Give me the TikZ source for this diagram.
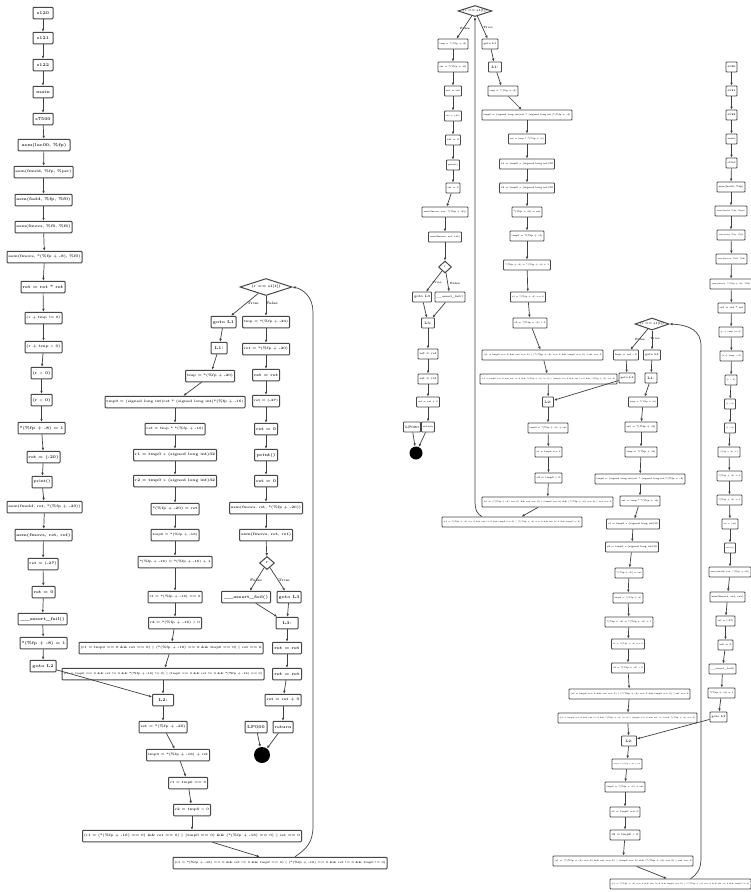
\documentclass[tikz,border=0pt]{standalone}
\usepackage{graphicx}
\usetikzlibrary{arrows.meta,shapes.geometric}
\newsavebox\fitbx
\newlength\fitw
\newcommand\fitto[2]{\setlength\fitw{#1pt}\addtolength\fitw{-3pt}\sbox\fitbx{#2}\ifdim\wd\fitbx>\fitw\resizebox{\fitw}{!}{\usebox\fitbx}\else\usebox\fitbx\fi}
\newcommand\nbA[5]{\node[bx,minimum width=#4pt] (#1) at (#2,#3) {\fitto{#4}{#5}};}
\newcommand\nbB[5]{\node[sbx,minimum width=#4pt] (#1) at (#2,#3) {\fitto{#4}{#5}};}
\begin{document}
\begin{tikzpicture}[x=1pt,y=-1pt,
  bx/.style={draw=black!72,line width=1pt,rounded corners=0.8pt,fill=white,inner xsep=1pt,inner ysep=0pt,minimum height=11.5pt,text=black!85,font=\fontsize{4.2}{4.6}\selectfont\bfseries},
  sbx/.style={draw=black!72,line width=0.9pt,rounded corners=0.8pt,fill=white,inner xsep=1pt,inner ysep=0pt,minimum height=10pt,text=black!85,font=\fontsize{3.5}{3.9}\selectfont\bfseries},
  dia/.style={diamond,draw=black!72,line width=1pt,fill=white,inner sep=0pt,aspect=3,text=black!85,font=\fontsize{3.6}{4}\selectfont\bfseries},
  lbl/.style={inner sep=0pt,text=black!85,font=\fontsize{3.6}{4}\selectfont\bfseries},
  ar/.style={draw=black!75,line width=0.7pt,-{Latex[length=3pt,width=2.6pt]}},
  sink/.style={circle,fill=black,inner sep=0pt}]
\fill[white] (0,0) rectangle (751,892);
\useasboundingbox (0,0) rectangle (751,892);

% ---------- graph 1: left column ----------
\nbA{la1}{43}{13}{20}{s120}
\nbA{la2}{43}{38}{20}{s121}
\nbA{la3}{43}{65}{20}{s122}
\nbA{la4}{43}{92}{20}{main}
\nbA{la5}{43}{119}{20}{s7500}
\nbA{la6}{44}{145}{52}{asm(lac00, \%fp)}
\nbA{la7}{43.5}{172}{59}{asm(fmuld, \%fp, \%psr)}
\nbA{la8}{43.5}{200}{57}{asm(fadd, \%fp, \%f0)}
\nbA{la9}{43.5}{227}{57}{asm(fmovs, \%f0, \%f6)}
\nbA{la10}{44.5}{257}{75}{asm(fmovs, *(\%fp + -8), \%f0)}
\nbA{la11}{43}{287}{44}{ret = ret * ret}
\nbA{la12}{43.5}{318}{37}{(r + tmp != 0)}
\nbA{la13}{43.5}{347}{37}{(r + tmp > 0)}
\nbA{la14}{41.5}{373}{21}{(r > 0)}
\nbA{la15}{41.5}{400}{21}{(r < 0)}
\nbA{la16}{41.5}{428}{47}{*(\%fp + -8) = 1}
\nbA{la17}{43.5}{457}{33}{ret = (-20)}
\nbA{la18}{42}{482}{20}{print()}
\nbA{la19}{44.5}{507}{75}{asm(fmuld, ret, *(\%fp + -20))}
\nbA{la20}{43.5}{535}{57}{asm(fmovs, ret, ret)}
\nbA{la21}{43}{564}{30}{ret = (-27)}
\nbA{la22}{43.5}{592}{23}{ret = 0}
\nbA{la23}{42.5}{619}{49}{\_\_assert\_fail()}
\nbA{la24}{43.5}{643}{47}{*(\%fp + -8) = 1}
\nbA{la25}{43}{666}{26}{goto L2}

% ---------- graph 1: loop ----------
\node[dia,minimum width=52pt,minimum height=17pt] (d1) at (266,287) {(r == s1[t])};
\node[lbl] (d1t) at (253,303) {True};
\node[lbl] (d1f) at (272,303) {False};
\nbA{b1}{223.5}{322}{25}{goto L1}
\nbA{b2}{219}{348}{16}{L1:}
\nbA{b3}{210}{376}{49}{tmp = *(\%fp + -20)}
\nbA{b4}{175}{402}{140}{tmp0 = (signed long int)ret * (signed long int)*(\%fp + -16)}
\nbA{b5}{175}{429}{60}{ret = tmp * *(\%fp + -16)}
\nbA{b6}{175}{455}{83}{r1 = tmp0 >> (signed long int)32}
\nbA{b7}{175}{481}{83}{r2 = tmp0 >> (signed long int)32}
\nbA{b8}{175}{509}{48}{*(\%fp + -20) = ret}
\nbA{b9}{175}{535}{48}{tmp0 = *(\%fp + -16)}
\nbA{b10}{175}{562}{74}{*(\%fp + -16) = *(\%fp + -16) + 1}
\nbA{b11}{175}{597}{54}{r1 = *(\%fp + -16) == 0}
\nbA{b12}{175}{623}{53}{r2 = *(\%fp + -16) > 0}
\nbA{b13}{171}{648}{184}{(r1 = tmp0 == 0 \&\& ret == 0) || (*(\%fp + -16) == 0 \&\& tmp0 == 0) || ret == 0}
\nbA{b14}{163}{674}{202}{(r1 = tmp0 == 0 \&\& ret != 0 \&\& *(\%fp + -16) != 0) || (tmp0 == 0 \&\& ret != 0 \&\& *(\%fp + -16) == 0)}
\nbA{b15}{163}{700}{21}{L2:}
\nbA{b16}{163}{727}{48}{ret = *(\%fp + -20)}
\nbA{b17}{178}{755}{63}{tmp0 = *(\%fp + -16) + ret}
\nbA{b18}{188}{783}{39}{r1 = tmp0 == 0}
\nbA{b19}{192}{810}{37}{r2 = tmp0 > 0}
\nbA{b20}{192}{836}{219}{(r1 = (*(\%fp + -16) == 0) \&\& ret == 0) || (tmp0 == 0) \&\& (*(\%fp + -16) == 0) || ret == 0}
\nbA{b21}{280}{863}{214}{(r1 = *(\%fp + -16) == 0 \&\& ret != 0 \&\& tmp0 == 0) || (*(\%fp + -16) == 0 \&\& ret != 0 \&\& tmp0 != 0)}

\nbA{c1}{266}{322}{47}{tmp = *(\%fp + -20)}
\nbA{c2}{266}{349}{47}{ret = *(\%fp + -20)}
\nbA{c3}{266}{375}{27}{ret = ret}
\nbA{c4}{266}{401}{27}{ret = (-27)}
\nbA{c5}{266}{429}{23}{ret = 0}
\nbA{c6}{266}{455}{23}{print()}
\nbA{c7}{266}{481}{23}{ret = 0}
\nbA{c8}{266}{508}{73}{asm(fmovs, ret, *(\%fp + -20))}
\nbA{c9}{266}{535}{53}{asm(fmovs, ret, ret)}
\node[dia,minimum width=15pt,minimum height=13pt] (d2) at (267,563) {r};
\node[lbl] (d2f) at (256,580) {False};
\node[lbl] (d2t) at (284,580) {True};
\nbA{c10}{246}{597}{49}{\_\_assert\_fail()}
\nbA{c11}{289}{597}{24}{goto L3}
\nbA{c12}{287}{623}{22}{L3:}
\nbA{c13}{287}{648}{29}{ret = ret}
\nbA{c14}{287}{674}{29}{ret = ret}
\nbA{c15}{283}{700}{36}{ret = ret + 0}
\nbA{c16}{283}{727}{20}{return}
\nbA{c17}{256}{727}{22}{LP000}
\node[sink,minimum size=16pt] (end1) at (262,755) {};

% ---------- graph 2 ----------
\node[dia,minimum width=34pt,minimum height=11pt,font=\fontsize{3}{3.4}\selectfont\bfseries] (d3) at (475,11) {(r == s1[t])};
\node[lbl,font=\fontsize{3}{3.4}\selectfont\bfseries] (d3f) at (465,28) {False};
\node[lbl,font=\fontsize{3}{3.4}\selectfont\bfseries] (d3t) at (488,28) {True};
\nbB{e1}{453}{44}{30}{tmp = *(\%fp + -8)}
\nbB{e2}{453}{67}{30}{ret = *(\%fp + -8)}
\nbB{e3}{453}{91}{17}{ret = ret}
\nbB{e4}{453}{116}{17}{ret = (-27)}
\nbB{e5}{453}{140}{15}{ret = 0}
\nbB{e6}{453}{165}{13}{print()}
\nbB{e7}{453}{188}{14}{ret = 0}
\nbB{e8}{445}{212}{46}{asm(fmovs, ret, *(\%fp + -8))}
\nbB{e9}{445}{237}{33}{asm(fmovs, ret, ret)}
\node[dia,minimum width=13pt,minimum height=12pt,font=\fontsize{3}{3.4}\selectfont\bfseries] (d4) at (445,267) {r};
\node[lbl,font=\fontsize{3}{3.4}\selectfont\bfseries] (d4t) at (437,283) {True};
\node[lbl,font=\fontsize{3}{3.4}\selectfont\bfseries] (d4f) at (455,283) {False};
\nbB{e10}{422}{297}{19}{goto L3}
\nbB{e11}{450}{297}{30}{\_\_assert\_fail()}
\nbB{e12}{428}{323}{13}{L3:}
\nbB{e13}{428}{354}{20}{ret = ret}
\nbB{e14}{428}{379}{20}{ret = ret}
\nbB{e15}{428}{402}{23}{ret = ret + 0}
\nbB{e16}{412}{427}{17}{LP000}
\nbB{e17}{428}{427}{13}{return}
\node[sink,minimum size=13pt] (end2) at (416,453) {};

\nbB{f1}{490}{44}{16}{goto L1}
\nbB{f2}{495}{67}{13}{L1:}
\nbB{f3}{503}{91}{30}{tmp = *(\%fp + -8)}
\nbB{f4}{527}{115}{90}{tmp0 = (signed long int)ret * (signed long int)*(\%fp + -4)}
\nbB{f5}{527}{139}{37}{ret = tmp * *(\%fp + -4)}
\nbB{f6}{527}{164}{55}{r1 = tmp0 >> (signed long int)32}
\nbB{f7}{527}{188}{55}{r2 = tmp0 >> (signed long int)32}
\nbB{f8}{527}{212}{30}{*(\%fp + -8) = ret}
\nbB{f9}{527}{236}{34}{tmp0 = *(\%fp + -4)}
\nbB{f10}{527}{265}{47}{*(\%fp + -4) = *(\%fp + -4) + 1}
\nbB{f11}{528}{297}{35}{r1 = *(\%fp + -4) == 0}
\nbB{f12}{530}{323}{34}{r2 = *(\%fp + -4) > 0}
\nbB{f13}{542.5}{355}{121}{(r1 = tmp0 == 0 \&\& ret == 0) || (*(\%fp + -4) == 0 \&\& tmp0 == 0) || ret == 0}
\nbB{f14}{548.5}{379}{137}{(r1 = tmp0 == 0 \&\& ret != 0 \&\& *(\%fp + -4) != 0) || (tmp0 == 0 \&\& ret != 0 \&\& *(\%fp + -4) == 0)}
\nbB{f15}{548}{402}{11}{L2:}
\nbB{f16}{548}{428}{40}{tmp0 = *(\%fp + -4) + ret}
\nbB{f17}{548.5}{452}{27}{r1 = tmp0 == 0}
\nbB{f18}{548.5}{478}{27}{r2 = tmp0 > 0}
\nbB{f19}{547.5}{502}{131}{(r1 = (*(\%fp + -4) == 0) \&\& ret == 0) || (tmp0 == 0) \&\& (*(\%fp + -4) == 0) || ret == 0}
\nbB{f20}{512}{522}{140}{(r1 = *(\%fp + -4) == 0 \&\& ret != 0 \&\& tmp0 == 0) || (*(\%fp + -4) == 0 \&\& ret != 0 \&\& tmp0 != 0)}

% ---------- graph 3 ----------
\node[dia,minimum width=34pt,minimum height=12pt,font=\fontsize{3}{3.4}\selectfont\bfseries] (d5) at (652,324) {(r == s1[t])};
\node[lbl,font=\fontsize{3}{3.4}\selectfont\bfseries] (d5f) at (640,339) {False};
\node[lbl,font=\fontsize{3}{3.4}\selectfont\bfseries] (d5t) at (655,339) {True};
\nbB{g1}{626}{355}{25}{tmp = ret - 0}
\nbB{g2}{627}{378}{16}{goto L2}
\nbB{h1}{652}{355}{17}{goto L1}
\nbB{h2}{651}{378}{12}{L1:}
\nbB{h3}{643}{402}{29}{tmp = *(\%fp + -8)}
\nbB{h4}{641}{427}{32}{ret = *(\%fp + -8)}
\nbB{h5}{641}{452}{32}{tmp = *(\%fp + -8)}
\nbB{h6}{640}{479}{90}{tmp0 = (signed long int)ret * (signed long int)*(\%fp + -4)}
\nbB{h7}{640}{501}{40}{ret = tmp * *(\%fp + -4)}
\nbB{h8}{633}{524}{53}{r1 = tmp0 >> (signed long int)32}
\nbB{h9}{632}{547}{53}{r2 = tmp0 >> (signed long int)32}
\nbB{h10}{629}{573}{28}{*(\%fp + -8) = ret}
\nbB{h11}{628}{598}{30}{tmp0 = *(\%fp + -4)}
\nbB{h12}{629}{622}{48}{*(\%fp + -4) = *(\%fp + -4) + 1}
\nbB{h13}{628}{644}{33}{r1 = *(\%fp + -4) == 0}
\nbB{h14}{628}{668}{33}{r2 = *(\%fp + -4) > 0}
\nbB{h15}{629.5}{694}{121}{(r1 = tmp0 == 0 \&\& ret == 0) || (*(\%fp + -4) == 0 \&\& tmp0 == 0) || ret == 0}
\nbB{h16}{627.5}{718}{139}{(r1 = tmp0 == 0 \&\& ret != 0 \&\& *(\%fp + -4) != 0) || (tmp0 == 0 \&\& ret != 0 \&\& *(\%fp + -4) == 0)}
\nbB{h17}{629}{741}{15}{L2:}
\nbB{h18}{627}{764}{30}{tmp0 = *(\%fp + -4) + ret}
\nbB{h19}{625}{787}{40}{tmp0 = *(\%fp + -4) + ret}
\nbB{h20}{625}{812}{30}{r1 = tmp0 == 0}
\nbB{h21}{625}{835}{30}{r2 = tmp0 > 0}
\nbB{h22}{623}{861}{140}{(r1 = (*(\%fp + -4) == 0) \&\& ret == 0) || (tmp0 == 0) \&\& (*(\%fp + -4) == 0) || ret == 0}
\nbB{h23}{680.5}{884}{141}{(r1 = *(\%fp + -4) == 0 \&\& ret != 0 \&\& tmp0 == 0) || (*(\%fp + -4) == 0 \&\& ret != 0 \&\& tmp0 != 0)}

% ---------- graph 4: right column ----------
\nbB{k1}{731.5}{67}{11}{s120}
\nbB{k2}{731.5}{91}{11}{s121}
\nbB{k3}{731.5}{115}{11}{s122}
\nbB{k4}{731.5}{139}{11}{main}
\nbB{k5}{731.5}{163}{11}{s7500}
\nbB{k6}{731}{187}{28}{asm(lac00, \%fp)}
\nbB{k7}{731}{211}{32}{asm(fmuld, \%fp, \%psr)}
\nbB{k8}{731}{235}{28}{asm(fadd, \%fp, \%f0)}
\nbB{k9}{731.5}{259}{31}{asm(fmovs, \%f0, \%f6)}
\nbB{k10}{731}{284}{42}{asm(fmovs, *(\%fp + -8), \%f0)}
\nbB{k11}{731.5}{308}{27}{ret = ret * ret}
\nbB{k12}{731}{332}{24}{(r + tmp != 0)}
\nbB{k13}{731.5}{356}{23}{(r + tmp > 0)}
\nbB{k14}{731}{380}{12}{(r > 0)}
\nbB{k15}{730}{404}{11}{(r < 0)}
\nbB{k16}{730}{428}{11}{(r > 0)}
\nbB{k17}{729}{452}{22}{*(\%fp + -8) = 1}
\nbB{k18}{729.5}{476}{25}{*(\%fp + -4) = 0}
\nbB{k19}{729.5}{500}{25}{*(\%fp + -4) = 1}
\nbB{k20}{730}{524}{16}{ret = (-20)}
\nbB{k21}{730}{548}{11}{print()}
\nbB{k22}{730}{572}{42}{asm(fmuld, ret, *(\%fp + -8))}
\nbB{k23}{727.5}{597}{35}{asm(fmovs, ret, ret)}
\nbB{k24}{725.5}{621}{19}{ret = (-27)}
\nbB{k25}{725.5}{645}{15}{ret = 0}
\nbB{k26}{722.5}{669}{27}{\_\_assert\_fail()}
\nbB{k27}{721.5}{693}{27}{*(\%fp + -4) = 1}
\nbB{k28}{718.5}{717}{17}{goto L2}

% ---------- edges ----------
\foreach \i in {1,...,24}{\pgfmathtruncatemacro\j{\i+1}\draw[ar] (la\i) -- (la\j);}
\draw[ar] (la25) -- (b15);

\draw[ar] (d1) -- (b1);
\draw[ar] (d1) -- (c1);
\foreach \i in {1,...,20}{\pgfmathtruncatemacro\j{\i+1}\draw[ar] (b\i) -- (b\j);}
\foreach \i in {1,...,8}{\pgfmathtruncatemacro\j{\i+1}\draw[ar] (c\i) -- (c\j);}
\draw[ar] (c9) -- (d2);
\draw[ar] (d2) -- (c10);
\draw[ar] (d2) -- (c11);
\draw[ar] (c10) -- (c12);
\draw[ar] (c11) -- (c12);
\draw[ar] (c12) -- (c13);
\draw[ar] (c13) -- (c14);
\draw[ar] (c14) -- (c15);
\draw[ar] (c15) -- (c16);
\draw[ar] (c16) -- (end1);
\draw[ar] (c17) -- (end1);
\draw[ar] ([xshift=15pt]b21.north) .. controls (306,849) and (313,843) .. (313,826) -- (313,312) .. controls (313,297) and (303,289) .. (d1.east);

\draw[ar] (d3) -- (e1);
\draw[ar] (d3) -- (f1);
\foreach \i in {1,...,8}{\pgfmathtruncatemacro\j{\i+1}\draw[ar] (e\i) -- (e\j);}
\draw[ar] (e9) -- (d4);
\draw[ar] (d4) -- (e10);
\draw[ar] (d4) -- (e11);
\draw[ar] (e10) -- (e12);
\draw[ar] (e11) -- (e12);
\draw[ar] (e12) -- (e13);
\draw[ar] (e13) -- (e14);
\draw[ar] (e14) -- (e15);
\draw[ar] (e15) -- (e17);
\draw[ar] (e16) -- (end2);
\draw[ar] (e17) -- (end2);
\foreach \i in {1,...,19}{\pgfmathtruncatemacro\j{\i+1}\draw[ar] (f\i) -- (f\j);}
\draw[ar] ([xshift=-30pt]f20.north) .. controls (477,514) and (475,510) .. (475,500) -- (d3.south);

\draw[ar] (d5) -- (g1);
\draw[ar] (d5) -- (h1);
\draw[ar] (g1) -- (g2);
\draw[ar] (g2) -- (f15);
\foreach \i in {1,...,22}{\pgfmathtruncatemacro\j{\i+1}\draw[ar] (h\i) -- (h\j);}
\draw[ar] ([xshift=10pt]h23.north) .. controls (698,874) and (701,868) .. (701,858) -- (701,346) .. controls (701,331) and (690,325) .. (d5.east);

\foreach \i in {1,...,27}{\pgfmathtruncatemacro\j{\i+1}\draw[ar] (k\i) -- (k\j);}
\draw[ar] (k28) -- (h17);
\end{tikzpicture}
\end{document}
